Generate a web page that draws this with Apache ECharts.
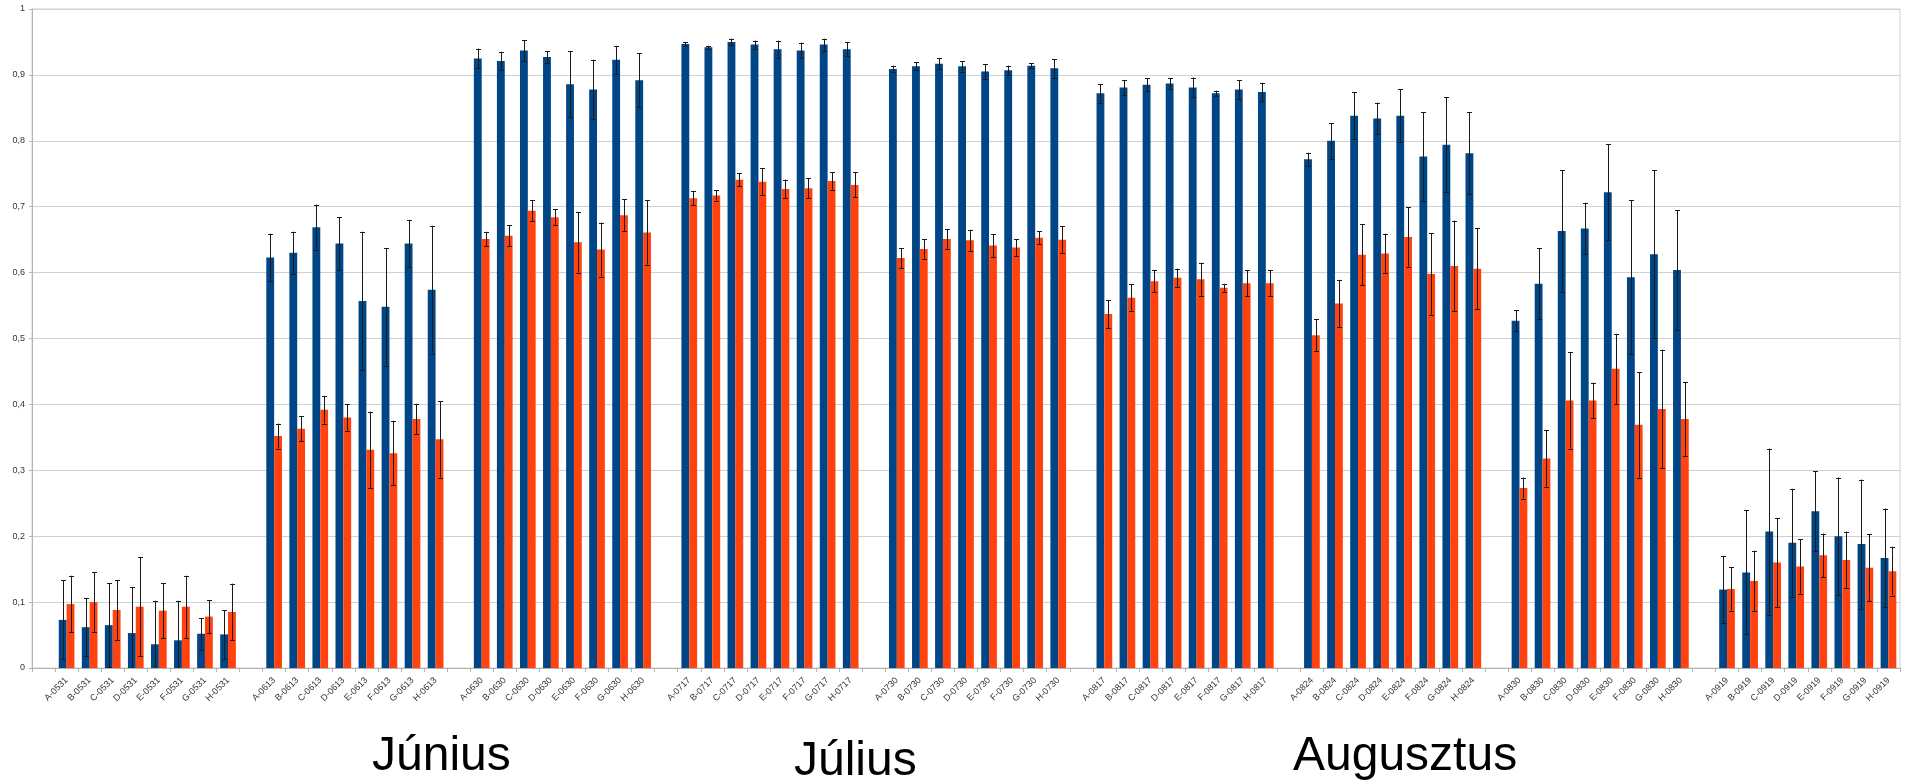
<!DOCTYPE html>
<html>
<head>
<meta charset="utf-8">
<script src="https://cdn.jsdelivr.net/npm/echarts@6/dist/echarts.min.js"></script>
<style>
html,body{margin:0;padding:0;background:#fff;}
#chart{width:1913px;height:782px;}
</style>
</head>
<body>
<div id="chart"></div>
<script>
// ---- data ----
const letters = ['A','B','C','D','E','F','G','H'];
const dates = ['0531','0613','0630','0717','0730','0817','0824','0830','0919'];
const monthLabels = ['Június','Július','Augusztus'];
const yTickLabels = ['0','0,1','0,2','0,3','0,4','0,5','0,6','0,7','0,8','0,9','1'];

// blue series (8 values per date, A..H)
const blueMean = [
  0.073,0.062,0.065,0.053,0.036,0.042,0.052,0.051,
  0.623,0.630,0.669,0.644,0.557,0.548,0.644,0.574,
  0.925,0.921,0.937,0.927,0.886,0.878,0.923,0.892,
  0.947,0.942,0.950,0.946,0.939,0.937,0.946,0.939,
  0.909,0.913,0.917,0.913,0.905,0.907,0.914,0.910,
  0.872,0.881,0.885,0.887,0.881,0.872,0.878,0.874,
  0.772,0.800,0.838,0.834,0.838,0.776,0.794,0.781,
  0.527,0.583,0.663,0.667,0.722,0.593,0.628,0.604,
  0.119,0.145,0.207,0.190,0.238,0.200,0.188,0.167
];
const blueErr = [
  0.060,0.044,0.064,0.070,0.066,0.060,0.024,0.037,
  0.036,0.032,0.034,0.040,0.105,0.089,0.036,0.097,
  0.015,0.014,0.016,0.009,0.050,0.045,0.021,0.041,
  0.003,0.002,0.005,0.006,0.013,0.012,0.009,0.011,
  0.005,0.006,0.008,0.008,0.011,0.007,0.004,0.014,
  0.014,0.011,0.010,0.008,0.015,0.004,0.014,0.014,
  0.010,0.027,0.036,0.024,0.040,0.067,0.072,0.062,
  0.016,0.054,0.092,0.039,0.073,0.117,0.127,0.091,
  0.051,0.094,0.126,0.082,0.061,0.089,0.098,0.075
];
// orange series
const orangeMean = [
  0.097,0.100,0.088,0.093,0.087,0.093,0.078,0.085,
  0.352,0.363,0.392,0.380,0.331,0.326,0.378,0.347,
  0.651,0.656,0.694,0.684,0.646,0.635,0.687,0.661,
  0.713,0.717,0.741,0.738,0.727,0.728,0.739,0.733,
  0.622,0.636,0.651,0.649,0.641,0.638,0.653,0.650,
  0.537,0.562,0.587,0.592,0.590,0.577,0.584,0.584,
  0.505,0.553,0.627,0.629,0.654,0.598,0.610,0.606,
  0.273,0.318,0.406,0.406,0.454,0.369,0.393,0.378,
  0.120,0.132,0.160,0.154,0.171,0.164,0.152,0.147
];
const orangeErr = [
  0.043,0.045,0.045,0.075,0.042,0.047,0.025,0.043,
  0.019,0.019,0.021,0.020,0.058,0.049,0.023,0.058,
  0.011,0.016,0.016,0.012,0.046,0.041,0.024,0.049,
  0.011,0.008,0.010,0.020,0.014,0.015,0.013,0.019,
  0.015,0.015,0.015,0.016,0.017,0.013,0.010,0.020,
  0.021,0.020,0.017,0.014,0.025,0.006,0.020,0.020,
  0.024,0.036,0.046,0.030,0.045,0.062,0.069,0.061,
  0.016,0.043,0.073,0.027,0.053,0.080,0.090,0.056,
  0.033,0.046,0.067,0.041,0.033,0.043,0.051,0.037
];

// ---- build category axis (leading blank + blank between dates) ----
const categories = [''];
const blueData = [null], orangeData = [null];
const blueErrData = [], orangeErrData = [];
dates.forEach((d, g) => {
  if (g > 0) { categories.push(''); blueData.push(null); orangeData.push(null); }
  letters.forEach((L, i) => {
    const k = g * 8 + i;
    const ci = categories.length;
    categories.push(L + '-' + d);
    blueData.push(blueMean[k]);
    orangeData.push(orangeMean[k]);
    blueErrData.push([ci, blueMean[k] - blueErr[k], blueMean[k] + blueErr[k]]);
    orangeErrData.push([ci, orangeMean[k] - orangeErr[k], orangeMean[k] + orangeErr[k]]);
  });
});

const BLUE = '#004586', ORANGE = '#ff420e';
const BAR_FRAC = 0.34; // each bar width as fraction of band

function errRender(side) {
  return function (params, api) {
    const x = api.value(0);
    const lo = api.coord([x, api.value(1)]);
    const hi = api.coord([x, api.value(2)]);
    const band = api.size([1, 0])[0];
    const cx = Math.round(lo[0] + side * band * BAR_FRAC / 2) + 0.5;
    const cap = 2.5;
    const st = { stroke: '#1a1a1a', lineWidth: 1 };
    return {
      type: 'group',
      children: [
        { type: 'line', shape: { x1: cx, y1: hi[1], x2: cx, y2: lo[1] }, style: st },
        { type: 'line', shape: { x1: cx - cap, y1: Math.round(hi[1]) + 0.5, x2: cx + cap, y2: Math.round(hi[1]) + 0.5 }, style: st },
        { type: 'line', shape: { x1: cx - cap, y1: Math.round(lo[1]) + 0.5, x2: cx + cap, y2: Math.round(lo[1]) + 0.5 }, style: st }
      ]
    };
  };
}

const chart = echarts.init(document.getElementById('chart'), null, { renderer: 'canvas' });
chart.setOption({
  animation: false,
  backgroundColor: '#ffffff',
  grid: { left: 32, right: 13, top: 9, bottom: 114, show: true, borderColor: '#d0d0d0', borderWidth: 1, backgroundColor: 'transparent' },
  xAxis: {
    type: 'category',
    data: categories,
    boundaryGap: true,
    axisLine: { lineStyle: { color: '#b3b3b3' } },
    axisTick: { show: true, length: 4, interval: 0, lineStyle: { color: '#b3b3b3' } },
    axisLabel: {
      interval: 0, rotate: 45, fontSize: 9, color: '#333',
      fontFamily: 'Liberation Sans, Arial, sans-serif', margin: 11
    },
    splitLine: { show: false }
  },
  yAxis: {
    type: 'value', min: 0, max: 1, interval: 0.1,
    axisLine: { show: true, lineStyle: { color: '#b3b3b3' } },
    axisTick: { show: true, length: 3, lineStyle: { color: '#b3b3b3' } },
    axisLabel: {
      fontSize: 9, color: '#333', margin: 7, fontFamily: 'Liberation Sans, Arial, sans-serif',
      formatter: v => yTickLabels[Math.round(v * 10)]
    },
    splitLine: { show: true, lineStyle: { color: '#d0d0d0', width: 1 } }
  },
  series: [
    { name: 'blue', type: 'bar', data: blueData, itemStyle: { color: BLUE },
      barGap: '0%', barCategoryGap: '32%' },
    { name: 'orange', type: 'bar', data: orangeData, itemStyle: { color: ORANGE },
      barGap: '0%', barCategoryGap: '32%' },
    { name: 'blueErr', type: 'custom', data: blueErrData, renderItem: errRender(-1),
      encode: { x: 0, y: [1, 2] }, clip: true, z: 5 },
    { name: 'orangeErr', type: 'custom', data: orangeErrData, renderItem: errRender(1),
      encode: { x: 0, y: [1, 2] }, clip: true, z: 5 }
  ],
  graphic: [
    { type: 'text', left: 372, top: 733, style: { text: monthLabels[0], font: '48px "Liberation Sans", Arial, sans-serif', fill: '#000' } },
    { type: 'text', left: 794, top: 738, style: { text: monthLabels[1], font: '48px "Liberation Sans", Arial, sans-serif', fill: '#000' } },
    { type: 'text', left: 1293, top: 733, style: { text: monthLabels[2], font: '48px "Liberation Sans", Arial, sans-serif', fill: '#000' } }
  ]
});
</script>
</body>
</html>
